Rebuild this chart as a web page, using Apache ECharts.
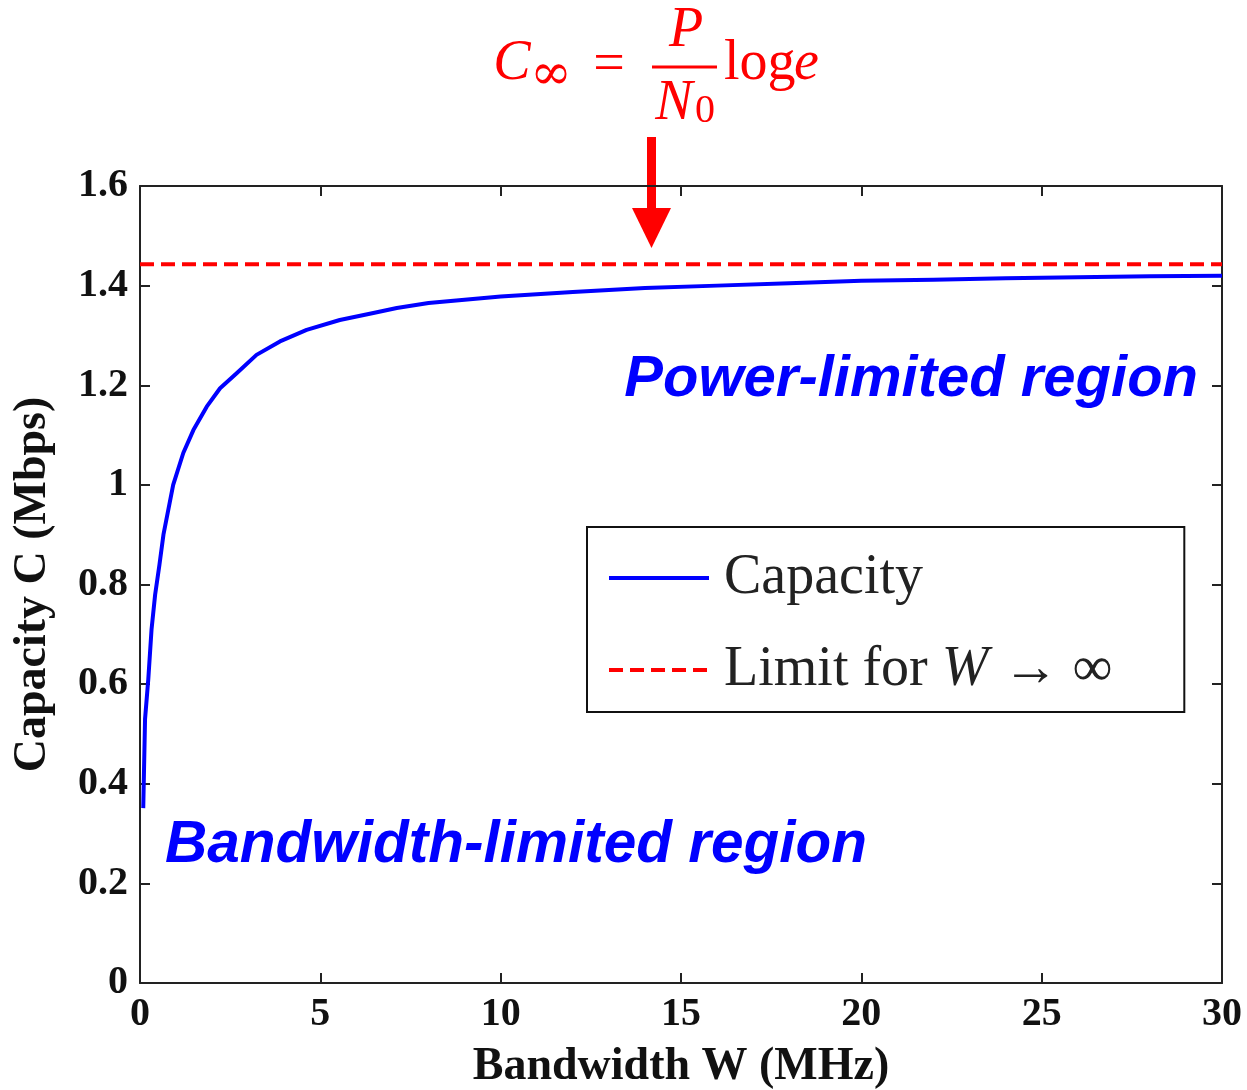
<!DOCTYPE html>
<html>
<head>
<meta charset="utf-8">
<script src="https://cdn.jsdelivr.net/npm/echarts@6/dist/echarts.min.js"></script>
<style>
  html, body { margin: 0; padding: 0; background: #fff; }
  #chart { width: 1247px; height: 1090px; }
</style>
</head>
<body>
<div id="chart"></div>
<script>
// bandwidth W (MHz) and capacity C (Mbps)
var bandwidth = [0.09, 0.14, 0.23, 0.32, 0.42, 0.54, 0.65, 0.92, 1.2, 1.48, 1.85, 2.22, 2.68, 3.23, 3.88, 4.62, 5.54, 6.47, 7.12, 8, 10, 12, 14, 16, 18, 20, 22, 24, 26, 28, 30];
var capacity = [0.351, 0.53, 0.61, 0.71, 0.78, 0.84, 0.90, 1.0, 1.064, 1.11, 1.157, 1.194, 1.224, 1.261, 1.288, 1.311, 1.331, 1.345, 1.355, 1.365, 1.378, 1.387, 1.395, 1.40, 1.405, 1.41, 1.412, 1.415, 1.417, 1.419, 1.42];
// limit for W -> inf, from 0 to 30 MHz
var limitW = [0, 30];
var limitC = [1.4427, 1.4427];

var xTicks = [0, 5, 10, 15, 20, 25, 30];
var yTicks = [0, 0.2, 0.4, 0.6, 0.8, 1, 1.2, 1.4, 1.6];

var capData = bandwidth.map(function (w, i) { return [w, capacity[i]]; });
var limData = limitW.map(function (w, i) { return [w, limitC[i]]; });

var myChart = echarts.init(document.getElementById('chart'));

var axisCol = '#222';
var serif = '"Liberation Serif", "Times New Roman", serif';
var red = '#ff0000';
var blue = '#0000ff';

// shared look of the box axes (ticks inside, no grid)
function boxAxis(extra) {
    var a = {
        type: 'value',
        axisLine: { onZero: false, lineStyle: { color: axisCol, width: 2 } },
        axisTick: { show: true, inside: true, length: 10, lineStyle: { color: axisCol, width: 2 } },
        splitLine: { show: false }
    };
    for (var k in extra) a[k] = extra[k];
    return a;
}

var option = {
    backgroundColor: '#fff',
    animation: false,
    grid: { left: 140, right: 25, top: 186, bottom: 107, containLabel: false, outerBoundsMode: 'none' },
    xAxis: [
        boxAxis({
            min: xTicks[0], max: xTicks[xTicks.length - 1], interval: 5,
            name: 'Bandwidth W (MHz)', nameLocation: 'middle', nameGap: 61,
            nameTextStyle: { fontFamily: serif, fontWeight: 'bold', fontSize: 46, color: '#111' },
            axisLabel: { margin: 12, fontFamily: serif, fontWeight: 'bold', fontSize: 40, color: '#111' }
        }),
        boxAxis({ position: 'top', min: 0, max: 30, interval: 5, axisLabel: { show: false } })
    ],
    yAxis: [
        boxAxis({
            min: yTicks[0], max: yTicks[yTicks.length - 1], interval: 0.2,
            name: 'Capacity C (Mbps)', nameLocation: 'middle', nameGap: 84,
            nameTextStyle: { fontFamily: serif, fontWeight: 'bold', fontSize: 46, color: '#111' },
            axisLabel: { margin: 12, fontFamily: serif, fontWeight: 'bold', fontSize: 40, color: '#111' }
        }),
        boxAxis({ position: 'right', min: 0, max: 1.6, interval: 0.2, axisLabel: { show: false } })
    ],
    legend: {
        orient: 'vertical',
        left: 587, top: 527,
        padding: [23, 72, 14, 20],
        itemWidth: 100, itemHeight: 2, itemGap: 36,
        borderColor: '#111', borderWidth: 2, borderRadius: 0,
        itemStyle: { opacity: 0 },
        lineStyle: { width: 4 },
        textStyle: {
            fontFamily: serif, fontSize: 56, color: '#222', padding: [0, 0, 0, 10],
            rich: { it: { fontFamily: serif, fontStyle: 'italic', fontSize: 56, color: '#222' } }
        },
        formatter: function (name) {
            return name === 'Capacity' ? name : 'Limit for {it|W} \u2192 \u221e';
        },
        data: ['Capacity', 'Limit for W \u2192 \u221e']
    },
    series: [
        {
            name: 'Capacity', type: 'line', data: capData,
            showSymbol: false, symbol: 'none', smooth: false,
            lineStyle: { color: blue, width: 4, join: 'round' }, itemStyle: { color: blue }
        },
        {
            name: 'Limit for W \u2192 \u221e', type: 'line', data: limData,
            showSymbol: false, symbol: 'none',
            lineStyle: { color: red, width: 4, type: [14, 7] }, itemStyle: { color: red }
        }
    ],
    graphic: [
        // region labels
        { type: 'text', style: { x: 1198, y: 380, text: 'Power-limited region', align: 'right', verticalAlign: 'middle',
            font: 'italic bold 58px "Liberation Sans", Arial, sans-serif', fill: blue } },
        { type: 'text', style: { x: 165, y: 846, text: 'Bandwidth-limited region', align: 'left', verticalAlign: 'middle',
            font: 'italic bold 58.5px "Liberation Sans", Arial, sans-serif', fill: blue } },
        // formula C_inf = P/N0 log e
        { type: 'text', style: { x: 512, y: 64, text: 'C', align: 'center', verticalAlign: 'middle',
            font: 'italic 56px "Liberation Serif", serif', fill: red } },
        { type: 'text', style: { x: 551, y: 76, text: '\u221e', align: 'center', verticalAlign: 'middle',
            font: '50px "DejaVu Serif", serif', fill: red } },
        { type: 'text', style: { x: 609, y: 66, text: '=', align: 'center', verticalAlign: 'middle',
            font: '56px "Liberation Serif", serif', fill: red } },
        { type: 'line', shape: { x1: 652, y1: 67, x2: 717, y2: 67 }, style: { stroke: red, lineWidth: 3 } },
        { type: 'text', style: { x: 686, y: 31, text: 'P', align: 'center', verticalAlign: 'middle',
            font: 'italic 56px "Liberation Serif", serif', fill: red } },
        { type: 'text', style: { x: 674, y: 104, text: 'N', align: 'center', verticalAlign: 'middle',
            font: 'italic 56px "Liberation Serif", serif', fill: red } },
        { type: 'text', style: { x: 705, y: 111, text: '0', align: 'center', verticalAlign: 'middle',
            font: '40px "Liberation Serif", serif', fill: red } },
        { type: 'text', style: { x: 724, y: 64, text: 'log', align: 'left', verticalAlign: 'middle',
            font: '56px "Liberation Serif", serif', fill: red } },
        { type: 'text', style: { x: 794, y: 64, text: 'e', align: 'left', verticalAlign: 'middle',
            font: 'italic 56px "Liberation Serif", serif', fill: red } },
        // arrow
        { type: 'rect', shape: { x: 647, y: 137, width: 9, height: 76 }, style: { fill: red } },
        { type: 'polygon', shape: { points: [[632, 208], [671, 208], [651.5, 248]] }, style: { fill: red } }
    ]
};

myChart.setOption(option);
</script>
</body>
</html>
